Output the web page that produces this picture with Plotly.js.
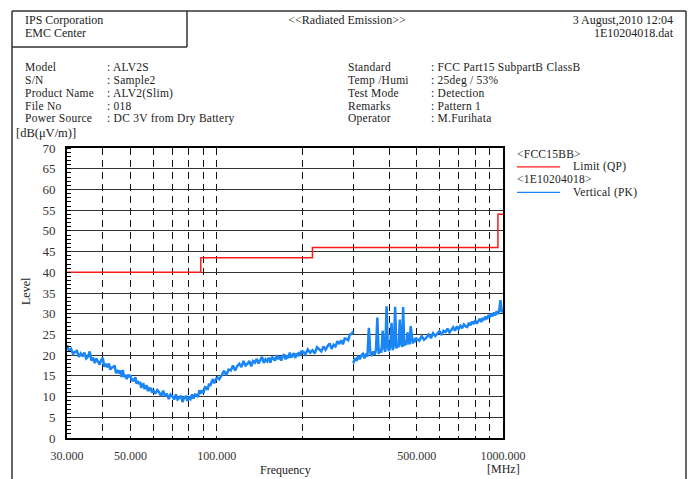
<!DOCTYPE html>
<html><head><meta charset="utf-8">
<script src="https://cdn.plot.ly/plotly-3.0.1.min.js"></script>
<style>
html,body{margin:0;padding:0;background:#fff}
#wrap{position:relative;width:690px;height:479px;overflow:hidden}
#chart{position:absolute;left:0;top:0;width:690px;height:479px}
#over{position:absolute;left:0;top:0;width:690px;height:479px;pointer-events:none;z-index:5}
#over div{position:absolute;white-space:nowrap;font-family:'Liberation Serif','DejaVu Serif',serif;color:#222}
</style>
</head><body><div id="wrap"><div id="chart"></div><div id="over"></div></div>
<script>
// ---- measured level (dB(uV/m)), Vertical (PK), sweep segments: start MHz, step MHz, levels ----
const segA_start = 30, segA_step = 0.5;
const segA_level = [22.4,20.9,21.5,20.3,20.8,21.0,19.6,20.4,19.7,20.6,19.2,19.6,20.9,18.7,19.4,18.1,19.2,18.4,17.7,18.8,
  19.3,17.2,17.9,17.1,18.0,16.5,17.0,17.1,17.5,15.6,16.4,15.6,16.3,14.7,16.4,14.7,15.2,14.2,15.3,14.7,
  15.2,13.7,14.3,13.7,14.7,13.1,13.8,13.0,13.6,12.1,12.9,13.0,11.8,12.4,12.7,11.3,12.2,11.4,12.1,10.9,11.5];
const segB_start = 60, segB_step = 1;
const segB_level = [11.6,10.7,11.6,11.0,10.1,11.4,10.1,10.7,9.4,10.5,10.1,9.3,10.5,9.3,9.7,10.2,8.7,9.8,10.0,9.0,
  9.8,9.4,10.5,9.5,10.5,10.4,9.9,11.5,10.7,11.5,10.9,12.3,12.2,11.6,13.1,12.6,13.6,14.2,13.2,14.2,14.6];
const segC_start = 100, segC_step = 2;
const segC_level = [14.8,14.2,15.1,16.2,15.2,16.5,16.3,17.5,16.3,17.4,17.9,17.1,18.6,17.5,17.9,18.6,17.3,18.6,18.2,19.1,
  18.0,18.7,19.6,18.1,19.0,18.5,19.4,18.2,19.6,19.1,18.7,20.0,19.0,19.7,18.7,19.7,20.2,19.0,19.7,19.3,
  20.6,19.4,20.0,20.5,19.3,20.4,20.0,20.7,19.8,21.1,20.4];
const segD_start = 200, segD_step = 4;
const segD_level = [21.0,20.2,21.4,20.6,21.2,20.4,21.9,21.3,20.9,22.1,21.3,22.2,22.8,21.5,22.5,22.1,23.4,22.7,23.6,22.6,
  24.0,23.9,23.6,25.0,25.1,25.8];
const segE_start = 300, segE_step = 4;
const segE_level = [18.0,19.3,18.6,19.8,19.0,19.9,20.3,19.2,20.4,19.6,26.6,20.6,19.8,20.9,20.1,21.2,29.1,20.3,21.5,20.6,
  25.9,21.7,20.8,31.8,21.9,21.0,22.1,27.8,21.2,22.5,31.7,21.6,22.8,21.9,28.6,23.0,22.0,31.6,22.2,23.4,
  22.5,25.5,23.5,22.6,27.0,23.7,22.8,24.0,23.1,24.2,23.9];
const segF_start = 500, segF_step = 10;
const segF_level = [23.9,23.5,24.6,23.7,24.2,25.0,24.1,25.3,24.6,25.1,25.8,24.9,25.9,25.6,26.4,25.5,26.0,26.7,25.9,26.9,
  26.3,27.1,26.5,27.4,27.0,26.8,27.8,27.2,28.1,27.5,28.4,27.6,28.2,28.8,28.0,29.0,28.5,29.3,28.7,29.7,
  29.1,30.0,29.4,30.3,29.6,30.6,29.9,30.8,33.3,30.3,31.2];

// ---- limit FCC15BB (QP) ----
const limitFreq = [30, 88, 216, 960, 1000];
const limitLevel = [40, 43.5, 46, 54, 54];

// ---- axes ----
const xTickVals = [30,40,50,60,70,80,90,100,200,300,400,500,600,700,800,900,1000];
const xTickText = ['30.000','','50.000','','','','','100.000','','','','500.000','','','','','1000.000'];
const yTickVals = [0,5,10,15,20,25,30,35,40,45,50,55,60,65,70];

// ---- header texts ----
const company = ['IPS Corporation', 'EMC Center'];
const reportTitle = '<<Radiated Emission>>';
const dateText = '3 August,2010 12:04';
const fileText = '1E10204018.dat';
const leftLabels = ['Model','S/N','Product Name','File No','Power Source'];
const leftValues = [': ALV2S',': Sample2',': ALV2(Slim)',': 018',': DC 3V from Dry Battery'];
const rightLabels = ['Standard','Temp /Humi','Test Mode','Remarks','Operator'];
const rightValues = [': FCC Part15 SubpartB ClassB',': 25deg / 53%',': Detection',': Pattern 1',': M.Furihata'];
const legendItems = [
  {group: '<FCC15BB>', name: 'Limit (QP)', color: '#ff1a1a'},
  {group: '<1E10204018>', name: 'Vertical (PK)', color: '#1a86f5'}
];
const yUnit = '[dB(μV/m)]', yName = 'Level', xName = 'Frequency', xUnit = '[MHz]';

// ---- layout geometry (pixels) ----
const PL = 67, PR = 503, PT = 148, PB = 438;
const X = px => (px - PL) / (PR - PL);
const Y = py => (PB - py) / (PB - PT);
const FONT = 'Liberation Serif, DejaVu Serif, serif';
const BLUE = legendItems[1].color, RED = legendItems[0].color;

// ---- HTML overlay texts (header, info block, legend) ----
const over = document.getElementById('over');
function htxt(px, cy, text, anchor, size, lh, extra) {
  const d = document.createElement('div');
  d.textContent = text;
  d.style.fontSize = size + 'px';
  d.style.lineHeight = lh + 'px';
  d.style.height = lh + 'px';
  d.style.top = (cy - lh / 2) + 'px';
  if (anchor === 'right') { d.style.right = (690 - px) + 'px'; d.style.textAlign = 'right'; }
  else if (anchor === 'center') { d.style.left = (px - 150) + 'px'; d.style.width = '300px'; d.style.textAlign = 'center'; }
  else { d.style.left = px + 'px'; }
  if (extra) Object.assign(d.style, extra);
  over.appendChild(d);
}
htxt(25, 20.5, company[0], 'left', 12, 13.5);
htxt(25, 34, company[1], 'left', 12, 13.5);
htxt(347, 20.5, reportTitle, 'center', 12, 13.5);
htxt(673, 20.5, dateText, 'right', 12, 13.5);
htxt(673, 34, fileText, 'right', 12, 13.5);
const rowY = [67.5, 80.3, 93.1, 105.9, 118.7];
const infoStyle = {letterSpacing: '0.25px'};
leftLabels.forEach((t, i) => { htxt(25, rowY[i], t, 'left', 11.5, 12.8, infoStyle); htxt(107, rowY[i], leftValues[i], 'left', 11.5, 12.8, infoStyle); });
rightLabels.forEach((t, i) => { htxt(348, rowY[i], t, 'left', 11.5, 12.8, infoStyle); htxt(431, rowY[i], rightValues[i], 'left', 11.5, 12.8, infoStyle); });
const legY = [[154, 166.8], [179.6, 192.4]];
legendItems.forEach((it, i) => {
  htxt(517, legY[i][0], it.group, 'left', 11.5, 12.8, infoStyle);
  htxt(573, legY[i][1], it.name, 'left', 11.5, 12.8, infoStyle);
});

// ---- traces ----
const segs = [
  [segA_start, segA_step, segA_level], [segB_start, segB_step, segB_level],
  [segC_start, segC_step, segC_level], [segD_start, segD_step, segD_level],
  [segE_start, segE_step, segE_level], [segF_start, segF_step, segF_level]
];
const traces = segs.map(s => ({
  type: 'scatter', mode: 'lines', x0: s[0], dx: s[1], y: s[2],
  line: {color: BLUE, width: 2.5}, showlegend: false, hoverinfo: 'skip'
}));
traces.push({
  type: 'scatter', mode: 'lines', x: limitFreq, y: limitLevel,
  line: {color: RED, width: 1.5, shape: 'hv'}, showlegend: false, hoverinfo: 'skip'
});

const ann = [];
function txt(px, py, text, anchor, size, extra) {
  ann.push(Object.assign({xref: 'paper', yref: 'paper', x: X(px), y: Y(py), text: text,
    showarrow: false, xanchor: anchor, yanchor: 'middle', borderpad: 0,
    font: {family: FONT, size: size || 12, color: '#222'}}, extra || {}));
}
txt(15, 133, yUnit, 'left', 12.5);
txt(26, 291, yName, 'center', 12, {textangle: -90});
txt(285, 470, xName, 'center');
txt(503, 469, xUnit, 'center');

const lineStyle = {color: '#333', width: 1.5};
const shapes = [
  {type: 'line', xref: 'paper', yref: 'paper', x0: X(12), x1: X(686), y0: Y(11), y1: Y(11), line: lineStyle},
  {type: 'line', xref: 'paper', yref: 'paper', x0: X(12), x1: X(12), y0: Y(11), y1: Y(485), line: lineStyle},
  {type: 'line', xref: 'paper', yref: 'paper', x0: X(686), x1: X(686), y0: Y(11), y1: Y(485), line: lineStyle},
  {type: 'line', xref: 'paper', yref: 'paper', x0: X(187), x1: X(187), y0: Y(11), y1: Y(47), line: lineStyle},
  {type: 'line', xref: 'paper', yref: 'paper', x0: X(12), x1: X(187), y0: Y(47), y1: Y(47), line: lineStyle}
];
legendItems.forEach((it, i) => {
  shapes.push({type: 'line', xref: 'paper', yref: 'paper', x0: X(517), x1: X(560),
    y0: Y(legY[i][1]), y1: Y(legY[i][1]), line: {color: it.color, width: 1.2}});
});

const layout = {
  width: 690, height: 479,
  margin: {l: PL, r: 690 - PR, t: PT, b: 479 - PB, pad: 0},
  paper_bgcolor: '#fff', plot_bgcolor: '#fff',
  showlegend: false,
  xaxis: {
    type: 'log', range: [Math.log10(30), Math.log10(1000)],
    tickmode: 'array', tickvals: xTickVals, ticktext: xTickText, ticks: '',
    showgrid: true, gridcolor: '#111', gridwidth: 1, griddash: '7px,5px',
    minor: {tickmode: 'array', tickvals: [100], showgrid: true, gridcolor: '#111', gridwidth: 1, ticks: ''},
    showline: true, linecolor: '#000', linewidth: 2, mirror: true,
    zeroline: false, ticklabelstandoff: 6,
    tickfont: {family: FONT, size: 12, color: '#333'}
  },
  yaxis: {
    range: [0, 70], tickmode: 'array', tickvals: yTickVals, ticks: '',
    showgrid: true, gridcolor: '#333', gridwidth: 1,
    minor: {dtick: 1, ticks: 'inside', ticklen: 4, tickcolor: '#000', tickwidth: 1, showgrid: false},
    showline: true, linecolor: '#000', linewidth: 2, mirror: true,
    zeroline: false, ticklabelstandoff: 7,
    tickfont: {family: FONT, size: 13, color: '#333'}
  },
  annotations: ann, shapes: shapes
};
Plotly.newPlot('chart', traces, layout, {staticPlot: true, displayModeBar: false});
</script></body></html>
